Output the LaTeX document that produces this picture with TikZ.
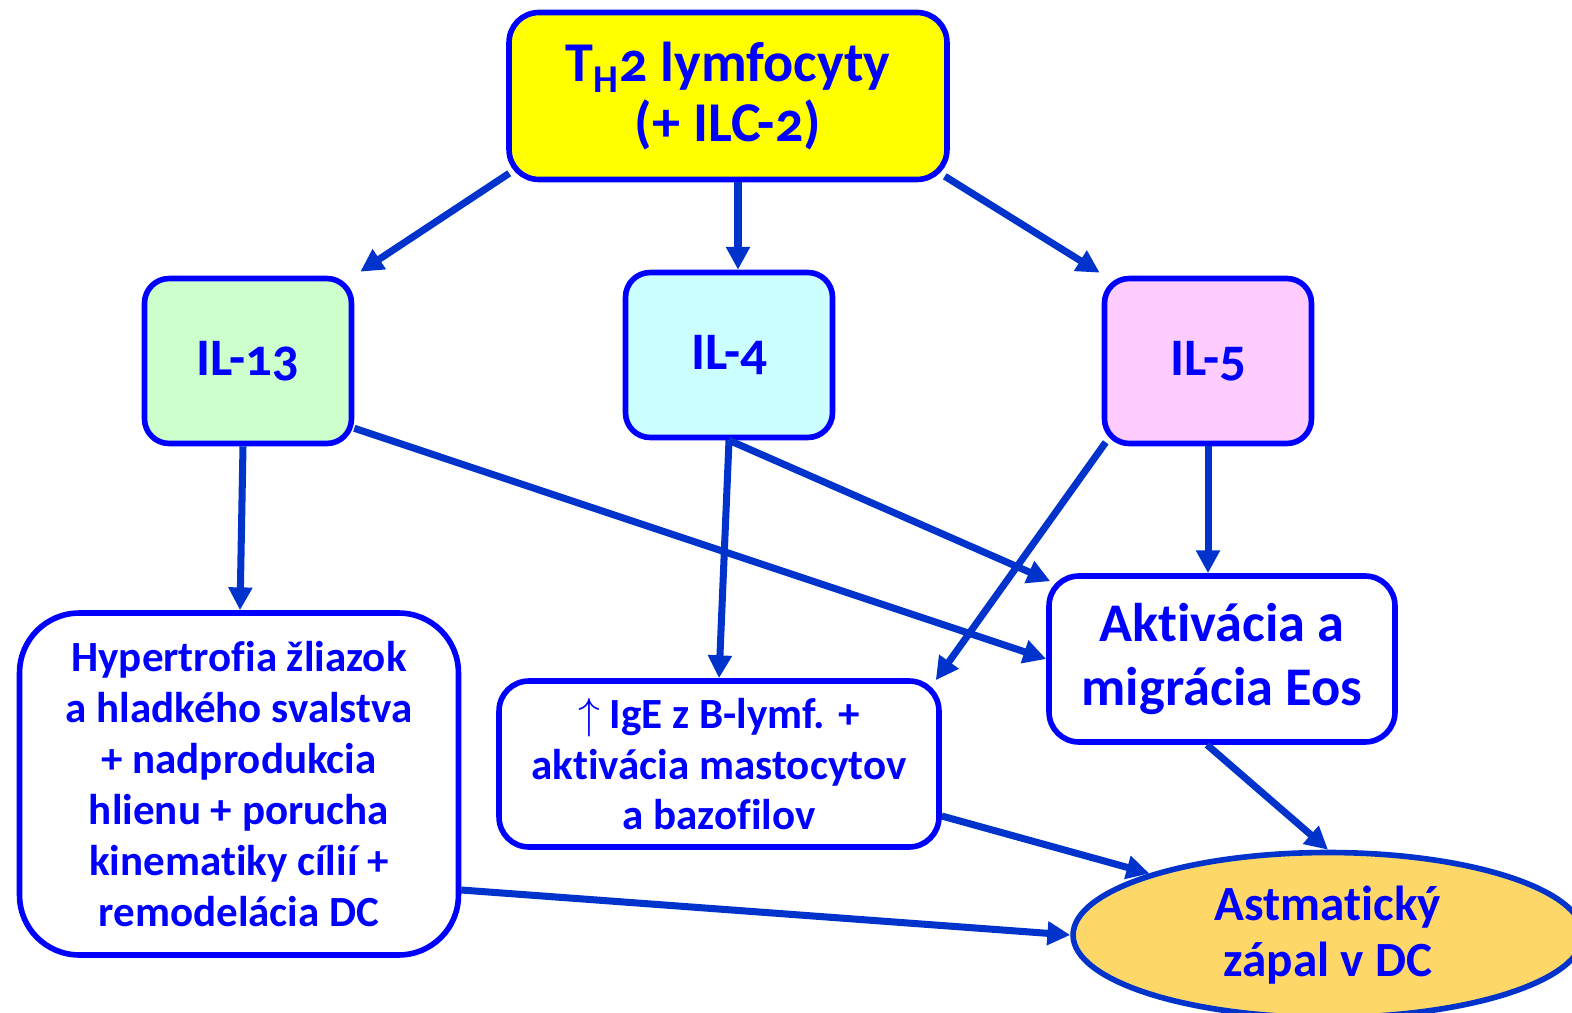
\documentclass[tikz,border=0pt]{standalone}
\usepackage{fontspec}
\setmainfont{Carlito}[Numbers=OldStyle,Ligatures=NoCommon]
\definecolor{myblue}{RGB}{0,0,255}
\definecolor{arrowblue}{RGB}{0,51,204}
\definecolor{myyellow}{RGB}{255,255,0}
\definecolor{mygreen}{RGB}{204,255,204}
\definecolor{mycyan}{RGB}{204,255,255}
\definecolor{mypink}{RGB}{255,204,255}
\definecolor{myorange}{RGB}{253,216,104}
\usetikzlibrary{positioning,shapes.geometric,arrows.meta,calc}

\begin{document}
\begin{tikzpicture}[x=0.02cm,y=-0.02cm,
    every node/.style={draw=myblue,line width=3.2pt,align=center,text=myblue,font=\bfseries,inner sep=0pt},
    ilbox/.style={rounded corners=14pt,minimum width=4.14cm,minimum height=3.3cm,font=\bfseries\fontsize{30}{34}\selectfont},
    effbox/.style={fill=white,rounded corners=17pt,font=\bfseries\fontsize{24.5}{29}\selectfont},
    arr/.style={draw=arrowblue,line width=4pt,-{Triangle[length=13pt,width=13pt]}}
    ]
    \useasboundingbox (0,0) rectangle (1572,1013);

    \node (th2) at (728,96) [fill=myyellow,rounded corners=17pt,minimum width=8.76cm,minimum height=3.34cm,
      font=\bfseries\fontsize{32}{34}\selectfont] {T\textsubscript{H}2 lymfocyty\\(+ ILC-2)};
    \node (il13) at (248,361) [ilbox,fill=mygreen] {IL-13};
    \node (il4) at (729,355) [ilbox,fill=mycyan] {IL-4};
    \node (il5) at (1208,361) [ilbox,fill=mypink] {IL-5};
    \node (hyper) at (239,784) [effbox,rounded corners=34pt,minimum width=8.78cm,minimum height=6.84cm]
      {Hypertrofia žliazok\\a hladkého svalstva\\+ nadprodukcia\\hlienu + porucha\\kinematiky cílií +\\remodelácia DC};
    \node (ige) at (719,764) [effbox,minimum width=8.8cm,minimum height=3.32cm]
      {{\mdseries$\uparrow$} IgE z B-lymf. +\\aktivácia mastocytov\\a bazofilov};
    \node (eos) at (1222,659) [effbox,minimum width=6.92cm,minimum height=3.32cm,
      font=\bfseries\fontsize{31}{36}\selectfont] {Aktivácia a\\migrácia Eos};
    \node (zapal) at (1328,935) [ellipse,draw=arrowblue,fill=myorange,minimum width=10.2cm,minimum height=3.3cm,
      font=\bfseries\fontsize{28}{32}\selectfont] {Astmatický\\zápal v DC};

    % the edges
    \draw[arr] ($(th2.south west)+(3,-9)$) -- ($(il13.north east)+(6,-4)$);
    \draw[arr] ($(th2.south)+(10,0)$) -- ($(il4.north)+(9,0)$);
    \draw[arr] ($(th2.south east)+(-5,-6)$) -- ($(il5.north west)+(-2,-3)$);
    \draw[arr] ($(il13.south)+(-5,0)$) -- ($(hyper.north)+(1,0)$);
    \draw[arr] ($(il13.south east)+(0,-18)$) -- (eos.west);
    \draw[arr] (il4.south) -- (ige.north);
    \draw[arr] (il4.south) -- ($(eos.north west)+(4,8)$);
    \draw[arr] ($(il5.south west)+(4,-4)$) -- ($(ige.north east)+(-6,2)$);
    \draw[arr] (il5.south) -- (il5.south |- eos.north);
    \draw[arr] ($(eos.south)+(-15,0)$) -- (zapal.north);
    \draw[arr] ($(ige.east)+(0,52)$) -- (zapal.161);
    \draw[arr] ($(hyper.east)+(0,106)$) -- (zapal.west);
\end{tikzpicture}
\end{document}
